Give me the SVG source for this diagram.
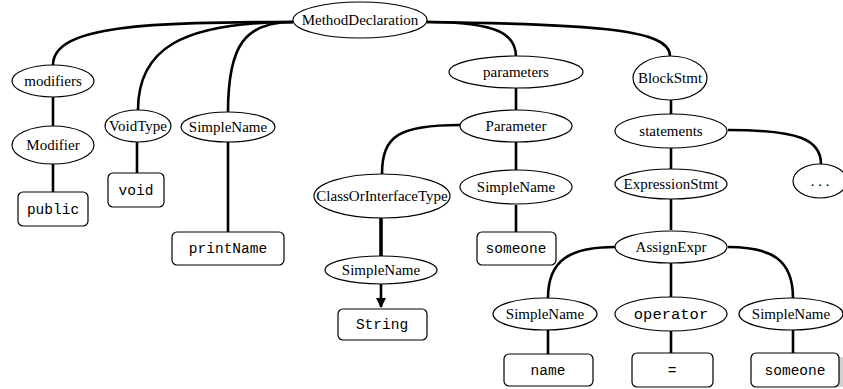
<svg xmlns="http://www.w3.org/2000/svg" width="843" height="389" viewBox="0 0 843 389">
<defs>
<style>
.e{fill:#fff;stroke:#000;stroke-width:1.2}
.b{fill:#fff;stroke:#000;stroke-width:1.2}
.t{font-family:"Liberation Serif","Times New Roman",serif;font-size:15px;text-anchor:middle;fill:#000}
.m{font-family:"Liberation Mono","Courier New",monospace;font-size:14.5px;text-anchor:middle;fill:#000}
.c path,.c line{fill:none;stroke:#000;stroke-width:2.6}
</style>
<marker id="arr" viewBox="0 0 10 10" refX="9" refY="5" markerWidth="4" markerHeight="4" orient="auto"><path d="M0,0 L10,5 L0,10 z" fill="#000"/></marker>
</defs>
<rect width="843" height="389" fill="#fff"/>
<g class="c" id="connectors">
<path d="M293,22 C150,22 53,25 53,65"/>
<path d="M293,22 C180,22 138,50 138,110"/>
<path d="M293,22 C245,22 228,45 228,112"/>
<path d="M427,22 C500,22 516,35 516,57"/>
<path d="M427,22 C600,24 670,30 670,56"/>
<line x1="53" y1="97" x2="53" y2="126"/>
<line x1="53" y1="163" x2="53" y2="192"/>
<line x1="137" y1="142" x2="137" y2="173"/>
<line x1="228" y1="142" x2="228" y2="232"/>
<line x1="516" y1="88" x2="516" y2="110"/>
<path d="M460,125 C400,125 382,135 382,174"/>
<line x1="516" y1="142" x2="516" y2="170"/>
<line x1="516" y1="205" x2="516" y2="232"/>
<line x1="381" y1="218" x2="381" y2="257" style="stroke-width:3.6"/>
<line x1="381" y1="257" x2="381" y2="283" style="stroke-width:1"/>
<line x1="381" y1="283" x2="381" y2="307" marker-end="url(#arr)"/>
<line x1="671" y1="100" x2="671" y2="114"/>
<line x1="671" y1="148" x2="671" y2="170"/>
<path d="M728,130 C800,130 821,140 821,164"/>
<line x1="671" y1="198" x2="671" y2="230"/>
<path d="M615,247 C570,247 548,260 548,298"/>
<line x1="671" y1="263" x2="671" y2="297"/>
<path d="M728,247 C772,247 793,260 793,298"/>
<line x1="548" y1="330" x2="548" y2="354"/>
<line x1="671" y1="331" x2="671" y2="353"/>
<line x1="793" y1="330" x2="793" y2="353"/>
</g>
<g id="n_method"><ellipse class="e" cx="360" cy="20" rx="67" ry="18"/><text class="t" x="360" y="25">MethodDeclaration</text></g>
<g id="n_modifiers"><ellipse class="e" cx="53" cy="81" rx="41" ry="16"/><text class="t" x="53" y="86">modifiers</text></g>
<g id="n_modifier"><ellipse class="e" cx="53" cy="145" rx="41" ry="19"/><text class="t" x="53" y="150">Modifier</text></g>
<g id="n_public"><rect class="b" x="18" y="192" width="70" height="34" rx="5"/><text class="m" x="53" y="214">public</text></g>
<g id="n_voidtype"><ellipse class="e" cx="138" cy="126" rx="33" ry="16"/><text class="t" x="138" y="131">VoidType</text></g>
<g id="n_void"><rect class="b" x="108" y="173" width="56" height="34" rx="5"/><text class="m" x="136" y="195">void</text></g>
<g id="n_sn1"><ellipse class="e" cx="228" cy="127" rx="47" ry="15"/><text class="t" x="228" y="132">SimpleName</text></g>
<g id="n_printname"><rect class="b" x="172" y="232" width="112" height="33" rx="5"/><text class="m" x="228" y="253">printName</text></g>
<g id="n_parameters"><ellipse class="e" cx="516" cy="72" rx="67" ry="16"/><text class="t" x="516" y="77">parameters</text></g>
<g id="n_parameter"><ellipse class="e" cx="516" cy="126" rx="56" ry="16"/><text class="t" x="516" y="131">Parameter</text></g>
<g id="n_coit"><ellipse class="e" cx="382" cy="196" rx="68" ry="22"/><text class="t" x="382" y="201">ClassOrInterfaceType</text></g>
<g id="n_sn2"><ellipse class="e" cx="516" cy="187" rx="56" ry="17"/><text class="t" x="516" y="192">SimpleName</text></g>
<g id="n_someone1"><rect class="b" x="477" y="232" width="79" height="33" rx="5"/><text class="m" x="516" y="253">someone</text></g>
<g id="n_sn3"><ellipse class="e" cx="381" cy="270" rx="56" ry="14"/><text class="t" x="381" y="275">SimpleName</text></g>
<g id="n_string"><rect class="b" x="338" y="309" width="89" height="31" rx="5"/><text class="m" x="382" y="329">String</text></g>
<g id="n_blockstmt"><ellipse class="e" cx="670" cy="78" rx="37" ry="22"/><text class="t" x="670" y="83">BlockStmt</text></g>
<g id="n_statements"><ellipse class="e" cx="671" cy="131" rx="56" ry="17"/><text class="t" x="671" y="136">statements</text></g>
<g id="n_exprstmt"><ellipse class="e" cx="671" cy="184" rx="56" ry="15"/><text class="t" x="671" y="189">ExpressionStmt</text></g>
<g id="n_dots"><ellipse class="e" cx="820" cy="181" rx="27" ry="17"/><text class="t" x="820" y="186">. . .</text></g>
<g id="n_assign"><ellipse class="e" cx="671" cy="247" rx="56" ry="16"/><text class="t" x="671" y="252">AssignExpr</text></g>
<g id="n_sn4"><ellipse class="e" cx="545" cy="314" rx="52" ry="16"/><text class="t" x="545" y="319">SimpleName</text></g>
<g id="n_operator"><ellipse class="e" cx="671" cy="314" rx="56" ry="17"/><text class="m" x="671" y="319" style="font-size:15.5px">operator</text></g>
<g id="n_sn5"><ellipse class="e" cx="791" cy="314" rx="52" ry="16"/><text class="t" x="791" y="319">SimpleName</text></g>
<g id="n_name"><rect class="b" x="504" y="354" width="89" height="32" rx="5"/><text class="m" x="548" y="375">name</text></g>
<g id="n_eq"><rect class="b" x="632" y="353" width="81" height="34" rx="5"/><text class="m" x="672" y="375">=</text></g>
<g id="n_someone2"><rect x="837" y="357" width="6" height="30" fill="#d0d0d0"/><rect class="b" x="751" y="353" width="88" height="34" rx="5"/><text class="m" x="795" y="375">someone</text></g>
</svg>
